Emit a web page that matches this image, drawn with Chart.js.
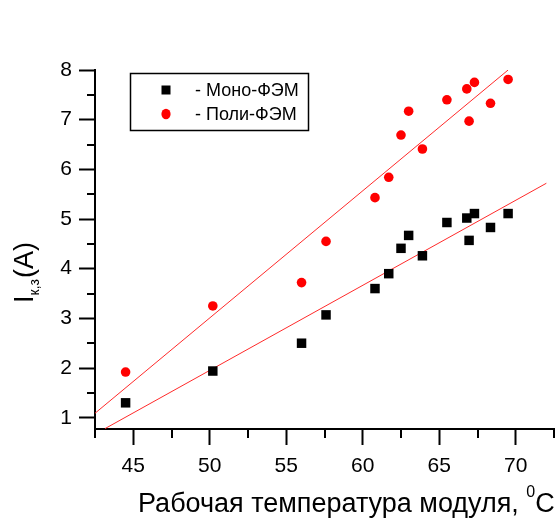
<!DOCTYPE html>
<html>
<head>
<meta charset="utf-8">
<script src="https://cdn.jsdelivr.net/npm/chart.js@4/dist/chart.umd.min.js"></script>
<style>
  html, body { margin: 0; padding: 0; background: #fff; }
  #wrap { width: 556px; height: 522px; }
</style>
</head>
<body>
<div id="wrap"><canvas id="c" width="556" height="522"></canvas></div>
<script>
// Module temperature, °C (shared by both module types)
const temperatures = [44.5, 50.2, 56.0, 57.6, 60.8, 61.7, 62.5, 63.0, 63.9, 65.5, 66.8, 67.3, 66.95, 68.35, 69.5];
// Short-circuit current, A
const monoCurrent = [1.30, 1.94, 2.50, 3.07, 3.60, 3.90, 4.41, 4.67, 4.26, 4.93, 5.02, 5.11, 4.57, 4.83, 5.11];
const polyCurrent = [1.92, 3.25, 3.72, 4.55, 5.43, 5.84, 6.69, 7.17, 6.41, 7.40, 7.62, 7.75, 6.97, 7.33, 7.81];
// Linear fit lines (end points)
const monoFitX = [43.15, 72.0];
const monoFitY = [0.78, 5.72];
const polyFitX = [42.5, 69.5];
const polyFitY = [1.09, 8.0];
// Axis tick labels
const xTicks = [45, 50, 55, 60, 65, 70];
const yTicks = [1, 2, 3, 4, 5, 6, 7, 8];
const seriesNames = ['Моно-ФЭМ', 'Поли-ФЭМ'];

const FONT = "'Liberation Sans', Arial, sans-serif";

const toPoints = (xs, ys) => xs.map((x, i) => ({ x: x, y: ys[i] }));

// Minor ticks, axis titles and the boxed legend
const decorations = {
  id: 'decorations',
  afterDraw(chart) {
    const ctx = chart.ctx;
    const xs = chart.scales.x, ys = chart.scales.y;
    const area = chart.chartArea;
    ctx.save();
    ctx.strokeStyle = '#000';
    ctx.lineWidth = 2;
    // minor ticks at half steps
    for (let v = xs.min; v <= xs.max + 1e-6; v += 2.5) {
      if (Math.abs(v % 5) < 1e-6) continue;
      const px = Math.min(Math.round(xs.getPixelForValue(v)), chart.width - 1);
      ctx.beginPath();
      ctx.moveTo(px, area.bottom);
      ctx.lineTo(px, area.bottom + 9);
      ctx.stroke();
    }
    for (let v = 1.5; v < ys.max; v += 1) {
      const py = Math.round(ys.getPixelForValue(v));
      ctx.beginPath();
      ctx.moveTo(area.left, py);
      ctx.lineTo(area.left - 8, py);
      ctx.stroke();
    }

    // y axis title: I with subscript, rotated
    ctx.fillStyle = '#000';
    ctx.save();
    ctx.translate(33, 303);
    ctx.rotate(-Math.PI / 2);
    ctx.textBaseline = 'alphabetic';
    ctx.textAlign = 'left';
    ctx.font = '27px ' + FONT;
    let cx = 0;
    ctx.fillText('I', cx, 0);
    cx += ctx.measureText('I').width;
    ctx.font = '14px ' + FONT;
    ctx.fillText('к,з', cx, 6);
    cx += ctx.measureText('к,з').width + 1;
    ctx.font = '27px ' + FONT;
    ctx.fillText('(A)', cx, 0);
    ctx.restore();

    // x axis title with superscript degree
    ctx.save();
    ctx.textBaseline = 'alphabetic';
    ctx.textAlign = 'left';
    ctx.font = '27px ' + FONT;
    const main = 'Рабочая температура модуля, ';
    let tx = 138;
    const ty = 512;
    ctx.fillText(main, tx, ty);
    tx += ctx.measureText(main).width;
    ctx.font = '16px ' + FONT;
    ctx.fillText('0', tx, ty - 15);
    tx += ctx.measureText('0').width;
    ctx.font = '27px ' + FONT;
    ctx.fillText('C', tx, ty);
    ctx.restore();

    // legend box
    ctx.save();
    ctx.lineWidth = 1.5;
    ctx.strokeStyle = '#000';
    ctx.strokeRect(130.5, 73.5, 178, 57);
    ctx.font = '18px ' + FONT;
    ctx.textBaseline = 'middle';
    ctx.textAlign = 'left';
    const entries = chart.data.datasets.filter(d => d.inLegend);
    entries.forEach((d, i) => {
      const y = 90 + i * 24;
      ctx.fillStyle = d.backgroundColor;
      if (d.pointStyle === 'rect') {
        ctx.fillRect(161.5, y - 4.5, 9, 9);
      } else {
        ctx.beginPath();
        ctx.ellipse(166, y, 4.6, 5.2, 0, 0, Math.PI * 2);
        ctx.fill();
      }
      ctx.fillStyle = '#000';
      ctx.fillText('- ' + d.label, 195, y + 1);
    });
    ctx.restore();

    ctx.restore();
  }
};

new Chart(document.getElementById('c'), {
  type: 'scatter',
  data: {
    datasets: [
      {
        label: seriesNames[0],
        inLegend: true,
        data: toPoints(temperatures, monoCurrent),
        pointStyle: 'rect',
        pointRadius: 6.7,
        backgroundColor: '#000000',
        borderWidth: 0,
        order: 0
      },
      {
        label: seriesNames[1],
        inLegend: true,
        data: toPoints(temperatures, polyCurrent),
        pointStyle: 'circle',
        pointRadius: 4.8,
        backgroundColor: '#ff0000',
        borderWidth: 0,
        order: 0
      },
      {
        label: 'fit-mono',
        data: toPoints(monoFitX, monoFitY),
        showLine: true,
        borderColor: '#ff2a2a',
        borderWidth: 1,
        pointRadius: 0,
        order: 1
      },
      {
        label: 'fit-poly',
        data: toPoints(polyFitX, polyFitY),
        showLine: true,
        borderColor: '#ff2a2a',
        borderWidth: 1,
        pointRadius: 0,
        order: 1
      }
    ]
  },
  options: {
    responsive: false,
    animation: false,
    devicePixelRatio: 1,
    layout: { autoPadding: false, padding: { top: 70, right: 2, left: 0, bottom: 0 } },
    plugins: { legend: { display: false }, tooltip: { enabled: false } },
    scales: {
      x: {
        type: 'linear',
        min: 42.5,
        max: 72.5,
        afterBuildTicks: s => { s.ticks = xTicks.map(v => ({ value: v })); },
        afterFit: s => { s.height = 93; s.paddingLeft = 0; s.paddingRight = 0; },
        grid: { drawOnChartArea: false, tickLength: 16, tickWidth: 2, tickColor: '#000' },
        border: { color: '#000', width: 2 },
        ticks: { font: { family: FONT, size: 21 }, color: '#000', padding: 9, maxRotation: 0 }
      },
      y: {
        type: 'linear',
        min: 0.773,
        max: 8,
        afterBuildTicks: s => { s.ticks = yTicks.map(v => ({ value: v })); },
        afterFit: s => { s.width = 95; },
        grid: { drawOnChartArea: false, tickLength: 16, tickWidth: 2, tickColor: '#000' },
        border: { color: '#000', width: 2 },
        ticks: { font: { family: FONT, size: 21 }, color: '#000', padding: 7 }
      }
    }
  },
  plugins: [decorations]
});
</script>
</body>
</html>
